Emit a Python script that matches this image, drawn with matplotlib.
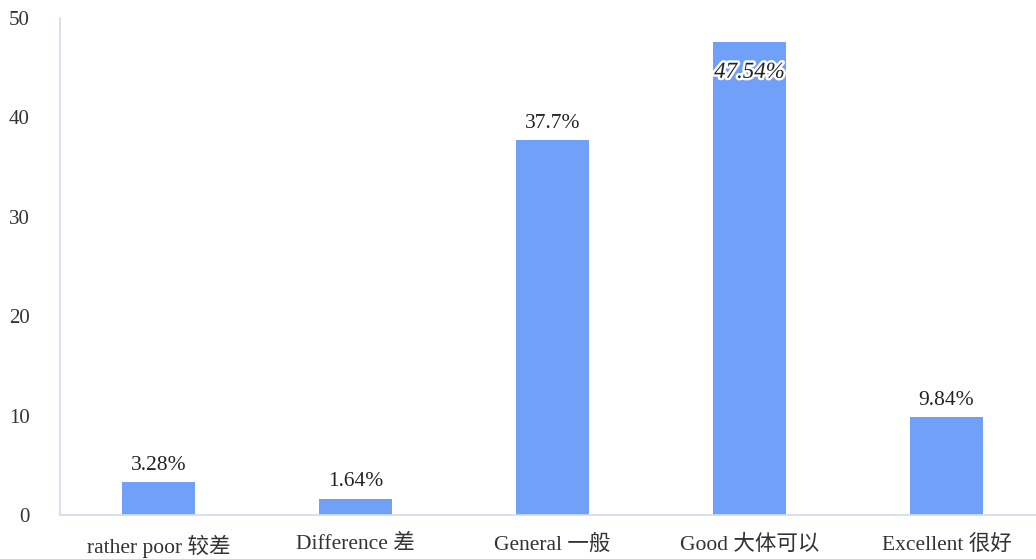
import matplotlib.pyplot as plt
import matplotlib.patheffects as pe
import numpy as np

plt.rcParams['font.family'] = ['Liberation Serif', 'Noto Sans CJK SC']

categories = ['rather poor 较差', 'Difference 差', 'General 一般', 'Good 大体可以', 'Excellent 很好']
values = [3.28, 1.64, 37.7, 47.54, 9.84]
labels = ['3.28%', '1.64%', '37.7%', '47.54%', '9.84%']

bar_color = '#70a0f8'
axis_color = '#d3dbea'
text_color = '#333333'

fig = plt.figure(figsize=(10.36, 5.59), dpi=100)
ax = fig.add_axes([60/1036, 44/559, 985/1036, 497/559])

x = np.arange(len(categories))
bars = ax.bar(x, values, width=0.366, color=bar_color)

ax.set_xlim(-0.5, 4.5)
ax.set_ylim(0, 50)
ax.set_yticks([0, 10, 20, 30, 40, 50])
ax.set_xticks(x)
ax.set_xticklabels(categories, fontsize=15.5, color=text_color)
ax.tick_params(axis='y', labelsize=15, labelcolor=text_color, length=0, pad=22)
ax.tick_params(axis='x', length=0, pad=14)

for side in ['top', 'right']:
    ax.spines[side].set_visible(False)
for side in ['left', 'bottom']:
    ax.spines[side].set_color(axis_color)
    ax.spines[side].set_linewidth(1.2)

for i, (v, lab) in enumerate(zip(values, labels)):
    if v > 45:
        # the tallest bar gets its label inside, with an outlined italic style
        ax.text(i, v - 3.0, lab, ha='center', va='center', fontsize=16.5,
                style='italic', color='#222222',
                path_effects=[pe.withStroke(linewidth=3.5, foreground='white')])
    else:
        ax.text(i, v + 0.75, lab, ha='center', va='bottom', fontsize=15.5,
                color='#222222')

fig.savefig('out.png', dpi=100)
